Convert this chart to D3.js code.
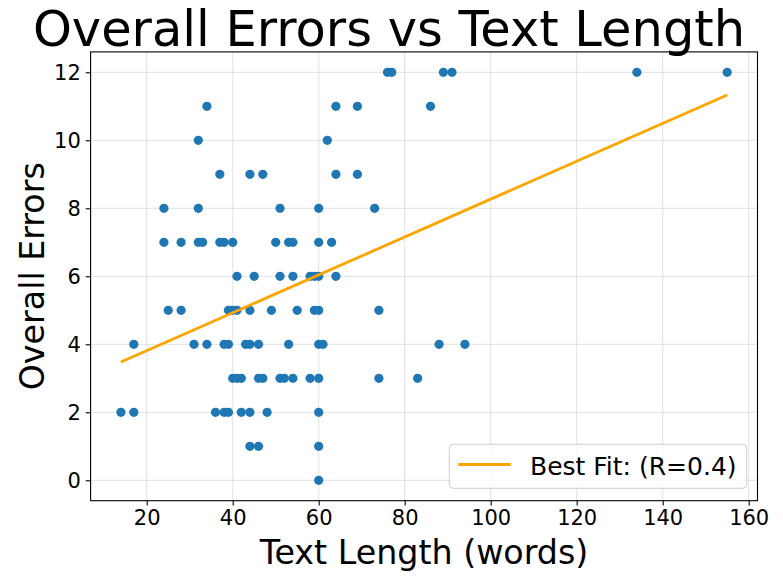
<!DOCTYPE html>
<html>
<head>
<meta charset="utf-8">
<script src="https://cdn.jsdelivr.net/npm/d3@7"></script>
<style>
  body { margin: 0; background: #fff; }
  svg { display: block; font-family: "DejaVu Sans", sans-serif; }
</style>
</head>
<body>
<svg id="chart" width="783" height="583"></svg>
<script>
// ---- Data ----
const textLength = [
  76, 77, 89, 91, 134, 155,
  34, 64, 69, 86,
  32, 62,
  37, 44, 47, 64, 69,
  24, 32, 51, 60, 73,
  24, 28, 32, 33, 37, 38, 40, 50, 53, 54, 60, 63,
  41, 45, 51, 54, 58, 59, 60, 64,
  25, 28, 39, 40, 41, 44, 49, 55, 59, 60, 74,
  17, 31, 34, 38, 39, 43, 44, 46, 53, 60, 61, 88, 94,
  40, 41, 42, 46, 47, 51, 52, 54, 58, 60, 74, 83,
  14, 17, 36, 38, 39, 42, 44, 48, 60,
  44, 46, 60,
  60
];
const overallErrors = [
  12, 12, 12, 12, 12, 12,
  11, 11, 11, 11,
  10, 10,
  9, 9, 9, 9, 9,
  8, 8, 8, 8, 8,
  7, 7, 7, 7, 7, 7, 7, 7, 7, 7, 7, 7,
  6, 6, 6, 6, 6, 6, 6, 6,
  5, 5, 5, 5, 5, 5, 5, 5, 5, 5, 5,
  4, 4, 4, 4, 4, 4, 4, 4, 4, 4, 4, 4, 4,
  3, 3, 3, 3, 3, 3, 3, 3, 3, 3, 3, 3,
  2, 2, 2, 2, 2, 2, 2, 2, 2,
  1, 1, 1,
  0
];
// Best-fit line (errors = intercept + slope * words)
const fitSlope = 0.0557;
const fitIntercept = 2.70;
const xTicks = [20, 40, 60, 80, 100, 120, 140, 160];
const yTicks = [0, 2, 4, 6, 8, 10, 12];
const titleText = "Overall Errors vs Text Length";
const xLabel = "Text Length (words)";
const yLabel = "Overall Errors";
const legendLabel = "Best Fit: (R=0.4)";

// ---- Layout ----
const W = 783, H = 583;
const plot = { left: 90.6, right: 757.5, top: 51.9, bottom: 500.7 };
const svg = d3.select("#chart");

const xMin = d3.min(textLength), xMax = d3.max(textLength);
const xPad = (xMax - xMin) * 0.05;
const yMinD = d3.min(overallErrors), yMaxD = d3.max(overallErrors);
const yPad = (yMaxD - yMinD) * 0.05;

const x = d3.scaleLinear().domain([xMin - xPad, xMax + xPad]).range([plot.left, plot.right]);
const y = d3.scaleLinear().domain([yMinD - yPad, yMaxD + yPad]).range([plot.bottom, plot.top]);

svg.append("rect").attr("width", W).attr("height", H).attr("fill", "#fff");

// grid
const grid = svg.append("g");
grid.selectAll(".gx").data(xTicks).join("line")
  .attr("x1", d => x(d)).attr("x2", d => x(d))
  .attr("y1", plot.top).attr("y2", plot.bottom)
  .attr("stroke", "#b0b0b0").attr("stroke-opacity", 0.35).attr("stroke-width", 1);
grid.selectAll(".gy").data(yTicks).join("line")
  .attr("y1", d => y(d)).attr("y2", d => y(d))
  .attr("x1", plot.left).attr("x2", plot.right)
  .attr("stroke", "#b0b0b0").attr("stroke-opacity", 0.35).attr("stroke-width", 1);

// points
const pts = textLength.map((t, i) => ({ t, e: overallErrors[i] }));
svg.append("g").selectAll("circle").data(pts).join("circle")
  .attr("cx", d => x(d.t)).attr("cy", d => y(d.e)).attr("r", 4.6)
  .attr("fill", "#1f77b4");

// best fit line
svg.append("line")
  .attr("x1", x(xMin)).attr("y1", y(fitIntercept + fitSlope * xMin))
  .attr("x2", x(xMax)).attr("y2", y(fitIntercept + fitSlope * xMax))
  .attr("stroke", "#FFA500").attr("stroke-width", 2.8);

// axes
const xAxis = d3.axisBottom(x).tickValues(xTicks).tickSize(4.9).tickPadding(4.9).tickFormat(d3.format("d"));
const yAxis = d3.axisLeft(y).tickValues(yTicks).tickSize(4.9).tickPadding(4.9).tickFormat(d3.format("d"));
const gx = svg.append("g").attr("transform", `translate(0,${plot.bottom})`).call(xAxis);
const gy = svg.append("g").attr("transform", `translate(${plot.left},0)`).call(yAxis);
[gx, gy].forEach(g => {
  g.select(".domain").remove();
  g.selectAll(".tick line").attr("stroke", "#000").attr("stroke-width", 1.1);
  g.selectAll(".tick text").attr("fill", "#000").attr("font-size", 21).attr("font-family", "DejaVu Sans");
});

// frame
svg.append("rect")
  .attr("x", plot.left).attr("y", plot.top)
  .attr("width", plot.right - plot.left).attr("height", plot.bottom - plot.top)
  .attr("fill", "none").attr("stroke", "#000").attr("stroke-width", 1.1);

// title & labels
svg.append("text").attr("x", 389).attr("y", 45.5).attr("text-anchor", "middle")
  .attr("font-size", 49.5).attr("fill", "#000").text(titleText);
svg.append("text").attr("x", (plot.left + plot.right) / 2).attr("y", 564).attr("text-anchor", "middle")
  .attr("font-size", 33.3).attr("fill", "#000").text(xLabel);
svg.append("text").attr("transform", `translate(44,${(plot.top + plot.bottom) / 2}) rotate(-90)`)
  .attr("text-anchor", "middle").attr("font-size", 33.3).attr("fill", "#000").text(yLabel);

// legend
const lg = svg.append("g");
lg.append("rect").attr("x", 449.3).attr("y", 444.3).attr("width", 297.4).attr("height", 44)
  .attr("rx", 4).attr("fill", "#fff").attr("fill-opacity", 0.8)
  .attr("stroke", "#cccccc").attr("stroke-width", 1);
lg.append("line").attr("x1", 458.3).attr("x2", 510.7).attr("y1", 464.5).attr("y2", 464.5)
  .attr("stroke", "#FFA500").attr("stroke-width", 2.8);
lg.append("text").attr("x", 530).attr("y", 474.5).attr("font-size", 25).attr("fill", "#000").text(legendLabel);
</script>
</body>
</html>
